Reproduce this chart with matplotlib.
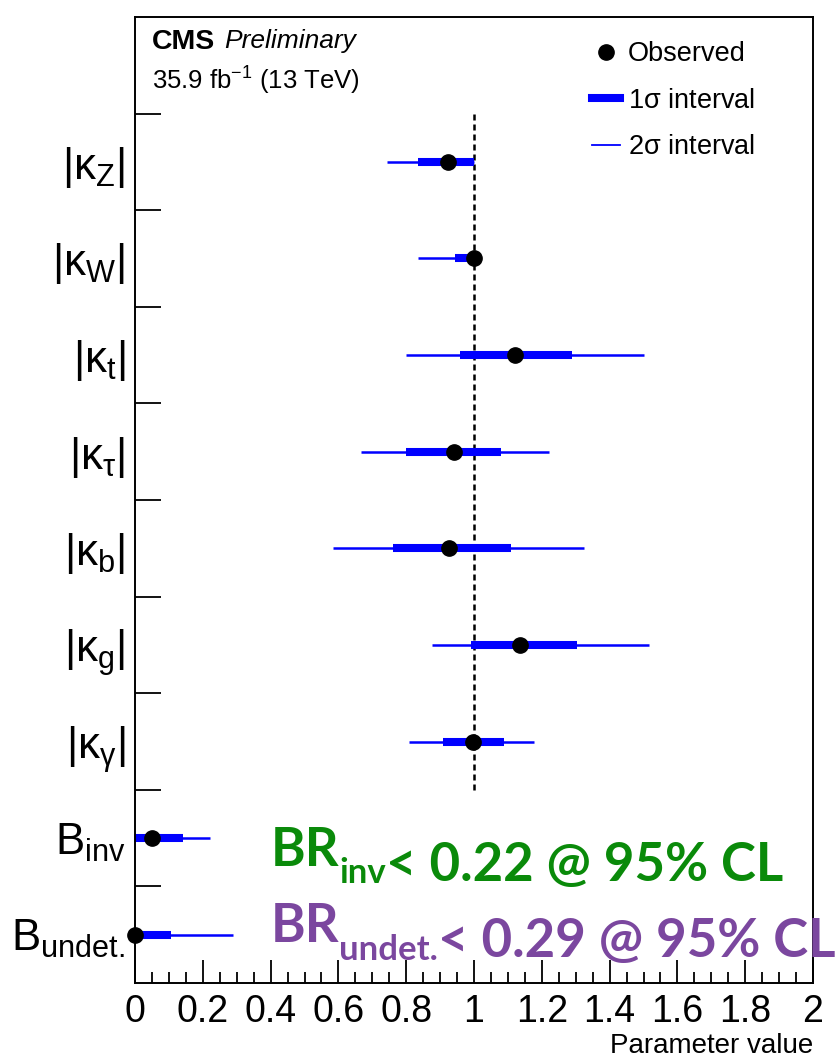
import numpy as np
import matplotlib
matplotlib.use("Agg")
import matplotlib.pyplot as plt
from matplotlib.lines import Line2D

plt.rcParams['font.family'] = ['Liberation Sans', 'DejaVu Sans']
plt.rcParams['mathtext.fontset'] = 'custom'
plt.rcParams['mathtext.rm'] = 'Liberation Sans'
plt.rcParams['mathtext.it'] = 'Liberation Sans:italic'
plt.rcParams['mathtext.bf'] = 'Liberation Sans:bold'

# coupling modifiers and BR limits, top to bottom
labels = [r'$\mathrm{|\kappa_{Z}|}$', r'$\mathrm{|\kappa_{W}|}$', r'$\mathrm{|\kappa_{t}|}$',
          r'$\mathrm{|\kappa_{\tau}|}$', r'$\mathrm{|\kappa_{b}|}$', r'$\mathrm{|\kappa_{g}|}$',
          r'$\mathrm{|\kappa_{\gamma}|}$', r'$\mathrm{B_{inv}}$', r'$\mathrm{B_{undet.}}$']
best = [0.923, 1.0, 1.12, 0.94, 0.927, 1.136, 0.996, 0.051, 0.0]
lo1 = [0.835, 0.945, 0.96, 0.80, 0.761, 0.99, 0.908, 0.0, 0.0]
hi1 = [1.0, 1.0, 1.29, 1.08, 1.109, 1.304, 1.088, 0.143, 0.106]
lo2 = [0.743, 0.835, 0.80, 0.667, 0.585, 0.877, 0.807, 0.0, 0.0]
hi2 = [1.0, 1.0, 1.50, 1.22, 1.325, 1.515, 1.178, 0.22, 0.29]

xticks = [0, 0.2, 0.4, 0.6, 0.8, 1.0, 1.2, 1.4, 1.6, 1.8, 2.0]
xticklabels = ['0', '0.2', '0.4', '0.6', '0.8', '1', '1.2', '1.4', '1.6', '1.8', '2']

ypos = np.arange(len(labels))[::-1] + 0.5

fig = plt.figure(figsize=(8.36, 10.58), dpi=100)
ax = fig.add_axes([135/836, 75/1058, 678/836, 966/1058])
ax.set_xlim(0, 2)
ax.set_ylim(0, 10)

# SM expectation for the kappas
ax.vlines(1, 2, 9, colors='black', linewidth=1.8, linestyles=(0, (2.4, 1.6)))

ax.hlines(ypos, lo2, hi2, colors='#0000ff', linewidth=1.8)
ax.hlines(ypos, lo1, hi1, colors='#0000ff', linewidth=5.8)
ax.plot(best, ypos, 'o', color='black', markersize=11, clip_on=False, zorder=5)

# axes ticks
ax.set_xticks(xticks, xticklabels)
ax.set_xticks(np.arange(0, 2.001, 0.05), minor=True)
ax.tick_params(axis='x', which='major', direction='in', length=16.5, width=1.3,
               labelsize=27, pad=8, top=False)
ax.tick_params(axis='x', which='minor', direction='in', length=8, width=1.3, top=False)

ax.set_yticks(np.arange(1, 10))
ax.set_yticklabels([])
ax.set_yticks(ypos, minor=True)
ax.set_yticklabels(labels, minor=True)
ax.tick_params(axis='y', which='major', direction='in', length=18.5, width=1.3, right=False)
ax.tick_params(axis='y', which='minor', length=0, labelsize=31.5, pad=7, right=False)

for s in ax.spines.values():
    s.set_linewidth(1.4)

ax.set_xlabel('Parameter value', fontsize=20, loc='right', labelpad=2)

# header
ax.text(0.025, 0.988, 'CMS', transform=ax.transAxes, fontsize=20.5, fontweight='bold',
        va='top', ha='left')
ax.text(0.132, 0.988, 'Preliminary', transform=ax.transAxes, fontsize=19,
        style='italic', va='top', ha='left')
ax.text(0.025, 0.951, r'35.9 fb$^{\mathrm{-1}}$ (13 TeV)', transform=ax.transAxes,
        fontsize=18.5, va='top', ha='left')

handles = [Line2D([], [], marker='o', color='black', linestyle='none', markersize=11),
           Line2D([], [], color='#0000ff', linewidth=5.8),
           Line2D([], [], color='#0000ff', linewidth=1.3)]
ax.legend(handles, ['Observed', r'1$\mathrm{\sigma}$ interval', r'2$\mathrm{\sigma}$ interval'],
          loc='upper right', bbox_to_anchor=(0.95, 1.0), frameon=False, fontsize=19.5,
          handlelength=1.0, handletextpad=0.3, labelspacing=0.75)

# BR upper limits
def limit_text(y, sub, rest, color):
    t1 = ax.text(0.4, y, 'BR', transform=ax.transData, fontsize=38, fontweight='bold',
                 family='Lato', color=color, va='baseline', ha='left')
    t2 = ax.annotate(sub, xy=(1, 0), xycoords=t1, xytext=(0, -6), textcoords='offset points',
                     fontsize=25, fontweight='bold', family='Lato', color=color,
                     va='baseline', ha='left')
    ax.annotate(rest, xy=(1, 0), xycoords=t2, xytext=(0, 6), textcoords='offset points',
                fontsize=38, fontweight='bold', family='Lato', color=color,
                va='baseline', ha='left', annotation_clip=False)

limit_text(1.21, 'inv', '< 0.22 @ 95% CL', '#0a8a0a')
limit_text(0.42, 'undet.', '< 0.29 @ 95% CL', '#7b479f')

fig.savefig('out.png', dpi=100)
